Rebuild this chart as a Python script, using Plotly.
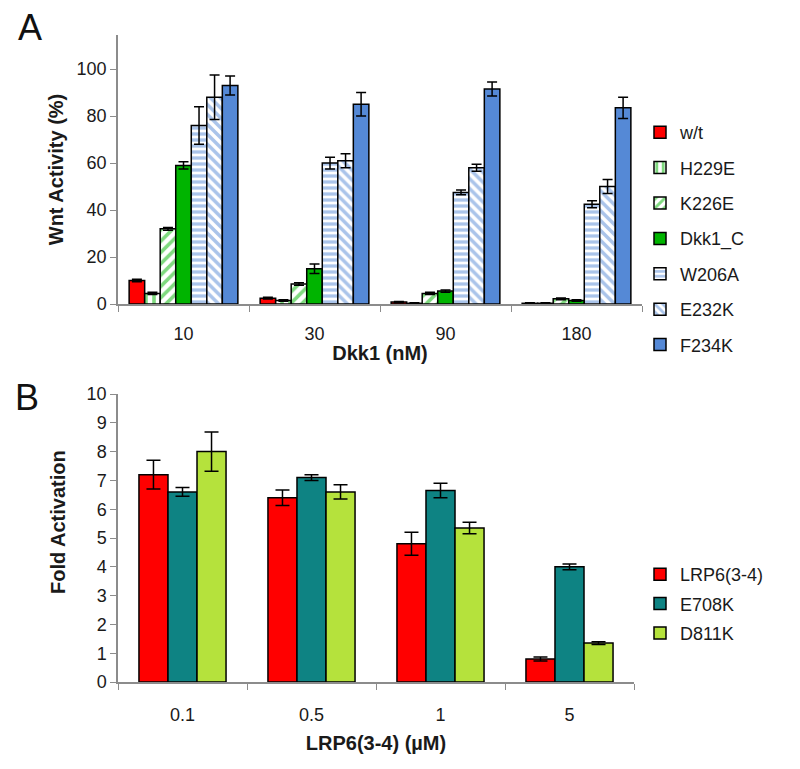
import plotly.graph_objects as go

# ---------------- Panel A data ----------------
dkk_labels = ["10", "30", "90", "180"]
a_series = ["w/t", "H229E", "K226E", "Dkk1_C", "W206A", "E232K", "F234K"]
wt_vals = [10, 2.5, 0.8, 0.3]
wt_err = [0.5, 0.4, 0.3, 0.2]
h229e_vals = [4.5, 1.5, 0.3, 0.3]
h229e_err = [0.5, 0.3, 0.2, 0.2]
k226e_vals = [32, 8.5, 4.5, 2.2]
k226e_err = [0.6, 0.5, 0.5, 0.4]
dkk1c_vals = [59, 15, 5.5, 1.5]
dkk1c_err = [1.5, 2, 0.5, 0.3]
w206a_vals = [76, 60, 47.5, 42.5]
w206a_err = [8, 2.5, 1, 1.5]
e232k_vals = [88, 61, 58, 50]
e232k_err = [9.5, 3, 1.5, 3]
f234k_vals = [93, 85, 91.5, 83.5]
f234k_err = [4, 5, 3, 4.5]

# ---------------- Panel B data ----------------
lrp_labels = ["0.1", "0.5", "1", "5"]
b_series = ["LRP6(3-4)", "E708K", "D811K"]
lrp6_vals = [7.2, 6.4, 4.8, 0.8]
lrp6_err = [0.5, 0.27, 0.4, 0.07]
e708k_vals = [6.6, 7.1, 6.65, 4.0]
e708k_err = [0.15, 0.1, 0.25, 0.1]
d811k_vals = [8.0, 6.6, 5.35, 1.35]
d811k_err = [0.68, 0.25, 0.2, 0.05]

RED = "#FF0000"
GREEN = "#00B400"
BLUE = "#5589D6"
TEAL = "#0E8383"
LIME = "#B5E23C"

# page body has an 8px margin; reference pixel coords are corrected by OFF
OFF = 8
W, H = 800, 769
ML, MR, MT, MB = 118 - OFF, 800 - (642 - OFF), 35 - OFF, 769 - (682 - OFF)
PW, PH = W - ML - MR, H - MT - MB


def px(x):
    return (x - OFF - ML) / PW


def py(y):
    return 1 - (y - OFF - MT) / PH


fig = go.Figure()

a_data = [
    (wt_vals, wt_err, dict(color=RED)),
    (h229e_vals, h229e_err, dict(color="white", pattern=dict(shape="|", fgcolor=GREEN, bgcolor="white", size=8, solidity=0.45, fillmode="overlay"))),
    (k226e_vals, k226e_err, dict(color="white", pattern=dict(shape="/", fgcolor=GREEN, bgcolor="white", size=8, solidity=0.45, fillmode="overlay"))),
    (dkk1c_vals, dkk1c_err, dict(color=GREEN)),
    (w206a_vals, w206a_err, dict(color="white", pattern=dict(shape="-", fgcolor=BLUE, bgcolor="white", size=6, solidity=0.55, fillmode="overlay"))),
    (e232k_vals, e232k_err, dict(color="white", pattern=dict(shape="\\", fgcolor=BLUE, bgcolor="white", size=7, solidity=0.5, fillmode="overlay"))),
    (f234k_vals, f234k_err, dict(color=BLUE)),
]
for name, (vals, err, mk) in zip(a_series, a_data):
    mk = dict(mk)
    mk["line"] = dict(color="black", width=1.5)
    fig.add_trace(go.Bar(
        x=dkk_labels, y=vals, name=name, marker=mk,
        error_y=dict(type="data", array=err, color="black", thickness=1.5, width=5),
        xaxis="x", yaxis="y", legend="legend", legendgroup=name,
    ))

b_width = 0.225
b_offsets = [-1.5 * b_width, -0.5 * b_width, 0.5 * b_width]
b_data = [(lrp6_vals, lrp6_err, RED), (e708k_vals, e708k_err, TEAL), (d811k_vals, d811k_err, LIME)]
for name, (vals, err, col), off in zip(b_series, b_data, b_offsets):
    fig.add_trace(go.Bar(
        x=lrp_labels, y=vals, name=name, width=b_width, offset=off,
        marker=dict(color=col, line=dict(color="black", width=1.5)),
        error_y=dict(type="data", array=err, color="black", thickness=1.5, width=7),
        xaxis="x2", yaxis="y2", legend="legend2", legendgroup=name,
    ))

FONT = "Liberation Sans, Arial, sans-serif"
AX = "#8C8C8C"
tickfont = dict(family=FONT, size=18, color="#1a1a1a")
titlefont = dict(family=FONT, size=20, color="#1a1a1a")

common_x = dict(type="category", showline=True, linecolor=AX, linewidth=1.5,
                ticks="outside", tickcolor=AX, ticklen=6, tickwidth=1,
                tickson="boundaries", showgrid=False, tickfont=tickfont,
                automargin=False)
common_y = dict(showline=True, linecolor=AX, linewidth=1.5, ticks="outside",
                tickcolor=AX, ticklen=6, tickwidth=1, showgrid=False,
                zeroline=False, tickfont=tickfont, automargin=False)

fig.update_layout(
    width=W, height=H,
    margin=dict(l=ML, r=MR, t=MT, b=MB),
    paper_bgcolor="white", plot_bgcolor="white",
    barmode="group",
    bargap=0.17, bargroupgap=0,
    font=dict(family=FONT, color="#1a1a1a"),
    xaxis=dict(common_x, domain=[0, 1], anchor="y", ticklabelstandoff=13,
               title=dict(text="<b>Dkk1 (nM)</b>", font=titlefont, standoff=3)),
    yaxis=dict(common_y, domain=[py(304), py(35)], anchor="x",
               range=[0, 114.5], tickvals=[0, 20, 40, 60, 80, 100],
               title=dict(text="<b>Wnt Activity (%)</b>", font=titlefont, standoff=8)),
    xaxis2=dict(common_x, domain=[0, px(634)], anchor="y2", ticklabelstandoff=16,
                title=dict(text="<b>LRP6(3-4) (µM)</b>", font=titlefont, standoff=12)),
    yaxis2=dict(common_y, domain=[py(682), py(394)], anchor="x2",
                range=[0, 10], dtick=1),
    legend=dict(x=px(640), y=py(114), xanchor="left", yanchor="top",
                font=dict(family=FONT, size=18, color="#1a1a1a"),
                traceorder="grouped", tracegroupgap=9, itemwidth=30,
                bgcolor="rgba(0,0,0,0)"),
    legend2=dict(x=px(640), y=py(556), xanchor="left", yanchor="top",
                 font=dict(family=FONT, size=18, color="#1a1a1a"),
                 traceorder="grouped", tracegroupgap=3, itemwidth=30,
                 bgcolor="rgba(0,0,0,0)"),
    annotations=[
        dict(text="A", x=px(30), y=py(27), xref="paper", yref="paper",
             xanchor="center", yanchor="middle",
             showarrow=False, font=dict(family=FONT, size=36, color="#111")),
        dict(text="B", x=px(27), y=py(397), xref="paper", yref="paper",
             xanchor="center", yanchor="middle",
             showarrow=False, font=dict(family=FONT, size=36, color="#111")),
        dict(text="<b>Fold Activation</b>", x=px(58), y=py(522), xref="paper", yref="paper",
             xanchor="center", yanchor="middle", textangle=-90,
             showarrow=False, font=titlefont),
    ],
)
fig.write_html("out.html")
